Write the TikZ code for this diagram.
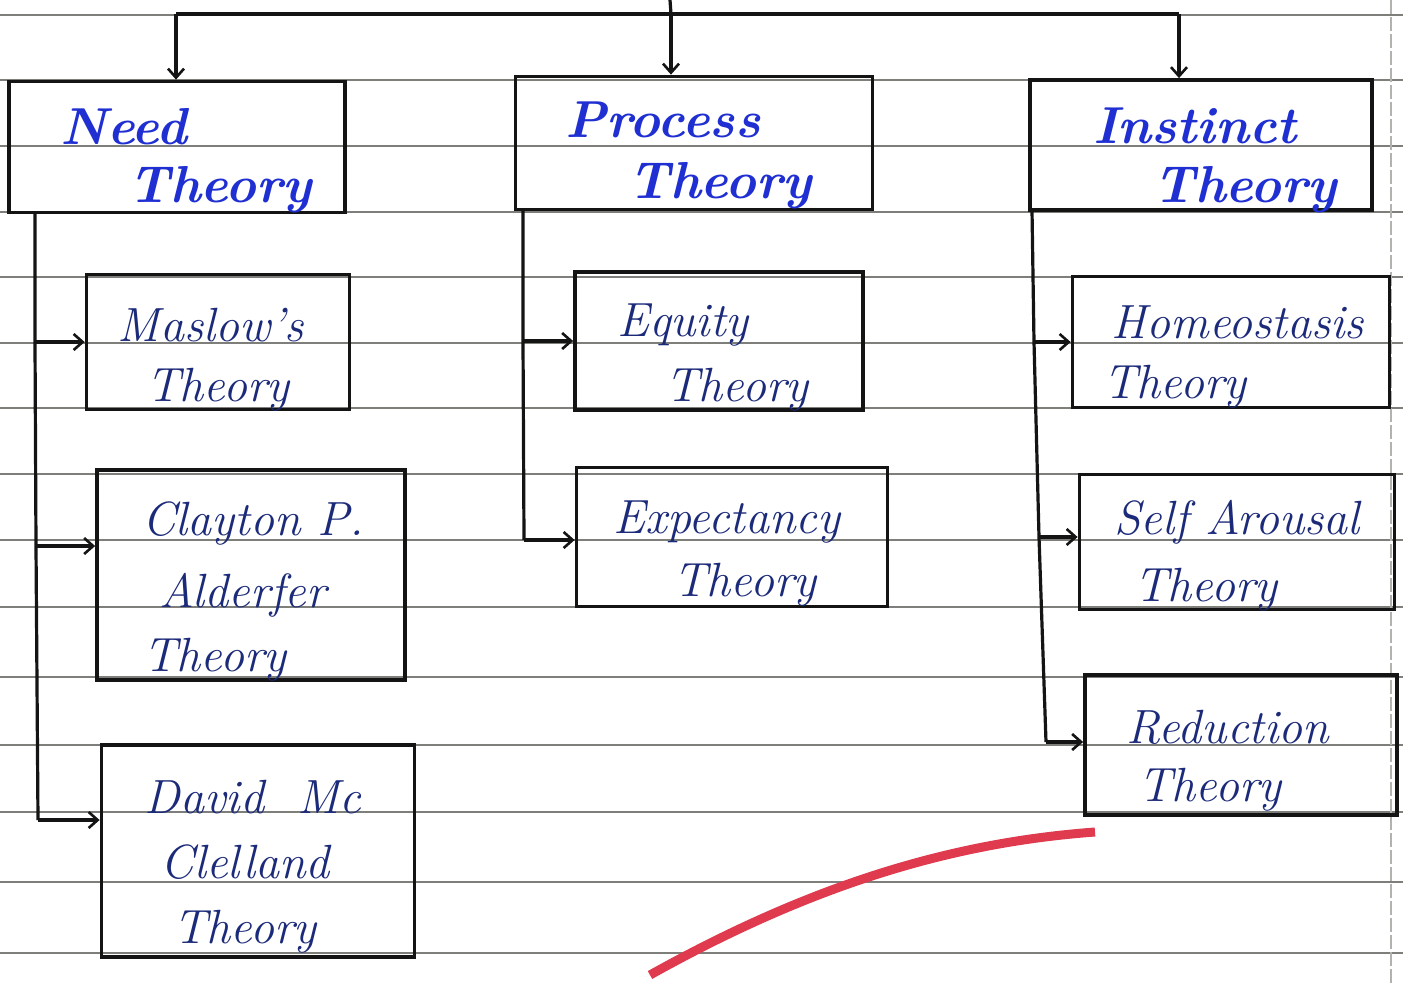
\documentclass[tikz,border=0pt]{standalone}
\usetikzlibrary{arrows.meta}
\definecolor{hblue}{HTML}{1F2FD2}
\definecolor{navy}{HTML}{1C2A7A}
\definecolor{rule}{HTML}{7E7E7A}
\definecolor{redpen}{HTML}{E03A4E}
\definecolor{ink}{HTML}{141414}
\begin{document}
\begin{tikzpicture}[x=1pt,y=-1pt,
  box/.style={draw=ink,line width=3.8pt,rectangle,inner sep=0pt},
  conn/.style={draw=ink,line width=3.2pt},
  arr/.style={conn,-{Straight Barb[length=9pt,width=16pt,line width=2.6pt]}},
  htext/.style={text=hblue,font=\fontsize{52}{54}\selectfont\bfseries\itshape,inner sep=0pt},
  stext/.style={text=navy,font=\fontsize{48}{50}\selectfont\itshape,inner sep=0pt},
  ruled/.style={draw=rule,line width=2.8pt},
]
\fill[white] (0,0) rectangle (1403,983);
\useasboundingbox (0,0) rectangle (1403,983);
% ruled paper
\foreach \y in {15,80,146,212,277,343,408,474,540,607,677,745,812,882,953}
  \draw[ruled] (0,\y) -- (1403,\y);
\draw[draw=rule!60,line width=1.6pt,dash pattern=on 14pt off 3pt] (1391,0) -- (1391,983);

% boxes
\node[box,minimum width=336,minimum height=131] (need) at (177,147) {};
\node[box,minimum width=357,minimum height=133] (proc) at (694,143) {};
\node[box,minimum width=342,minimum height=130] (inst) at (1201,145) {};
\node[box,minimum width=263,minimum height=135] (maslow) at (218,342) {};
\node[box,minimum width=308,minimum height=210] (clay) at (251,575) {};
\node[box,minimum width=313,minimum height=212] (david) at (258,851) {};
\node[box,minimum width=288,minimum height=138] (equity) at (719,341) {};
\node[box,minimum width=311,minimum height=139] (expect) at (732,537) {};
\node[box,minimum width=317,minimum height=131] (homeo) at (1231,342) {};
\node[box,minimum width=315,minimum height=135] (selfa) at (1237,542) {};
\node[box,minimum width=312,minimum height=140] (reduc) at (1241,745) {};

% texts
\node[htext] (needA) at (124,127) {Need};
\node[htext] (needB) at (220,190) {Theory};
\node[htext] (procA) at (663,120) {Process};
\node[htext] (procB) at (720,186) {Theory};
\node[htext] (instA) at (1195,126) {Instinct};
\node[htext] (instB) at (1245,190) {Theory};
\node[stext] (maslowA) at (211,325) {Maslow's};
\node[stext] (maslowB) at (218,390) {Theory};
\node[stext] (clayA) at (253,523) {Clayton P.};
\node[stext] (clayB) at (243,595) {Alderfer};
\node[stext] (clayC) at (215,660) {Theory};
\node[stext] (davidA) at (253,797) {David\ \ Mc};
\node[stext] (davidB) at (245,862) {Clelland};
\node[stext] (davidC) at (245,932) {Theory};
\node[stext] (equityA) at (683,325) {Equity};
\node[stext] (equityB) at (737,390) {Theory};
\node[stext] (expectA) at (727,522) {Expectancy};
\node[stext] (expectB) at (745,585) {Theory};
\node[stext] (homeoA) at (1238,322) {Homeostasis};
\node[stext] (homeoB) at (1175,387) {Theory};
\node[stext] (selfaA) at (1237,522) {Self Arousal};
\node[stext] (selfaB) at (1206,590) {Theory};
\node[stext] (reducA) at (1228,727) {Reduction};
\node[stext] (reducB) at (1210,790) {Theory};

% top bus
\coordinate (top) at (670,0);
\coordinate (b1) at (176,14);
\coordinate (b2) at (671,14);
\coordinate (b3) at (1179,14);
\draw[conn] (top) -- (b2);
\draw[conn] (b1) -- (b3);
\draw[arr] (b1) -- (b1 |- need.north);
\draw[arr] (b2) -- (b2 |- proc.north);
\draw[arr] (b3) -- (b3 |- inst.north);

% need trunk
\coordinate (n0) at (35,213);
\coordinate (n1) at (35,342);
\coordinate (n2) at (36,546);
\coordinate (n3) at (38,820);
\draw[conn] (n0) -- (n1) -- (n2) -- (n3);
\draw[arr] (n1) -- (n1 -| maslow.west);
\draw[arr] (n2) -- (n2 -| clay.west);
\draw[arr] (n3) -- (n3 -| david.west);

% process trunk
\coordinate (p0) at (523,210);
\coordinate (p1) at (523,341);
\coordinate (p2) at (524,540);
\draw[conn] (p0) -- (p1) -- (p2);
\draw[arr] (p1) -- (p1 -| equity.west);
\draw[arr] (p2) -- (p2 -| expect.west);

% instinct trunk
\coordinate (i0) at (1032,210);
\coordinate (i1) at (1034,342);
\coordinate (i2) at (1039,537);
\coordinate (i3) at (1046,742);
\draw[conn] (i0) -- (i1) -- (i2) -- (i3);
\draw[arr] (i1) -- (i1 -| homeo.west);
\draw[arr] (i2) -- (i2 -| selfa.west);
\draw[arr] (i3) -- (i3 -| reduc.west);

% red pen stroke
\draw[draw=redpen,line width=9pt] (650,975) .. controls (820,880) and (960,842) .. (1095,832);
\end{tikzpicture}
\end{document}
